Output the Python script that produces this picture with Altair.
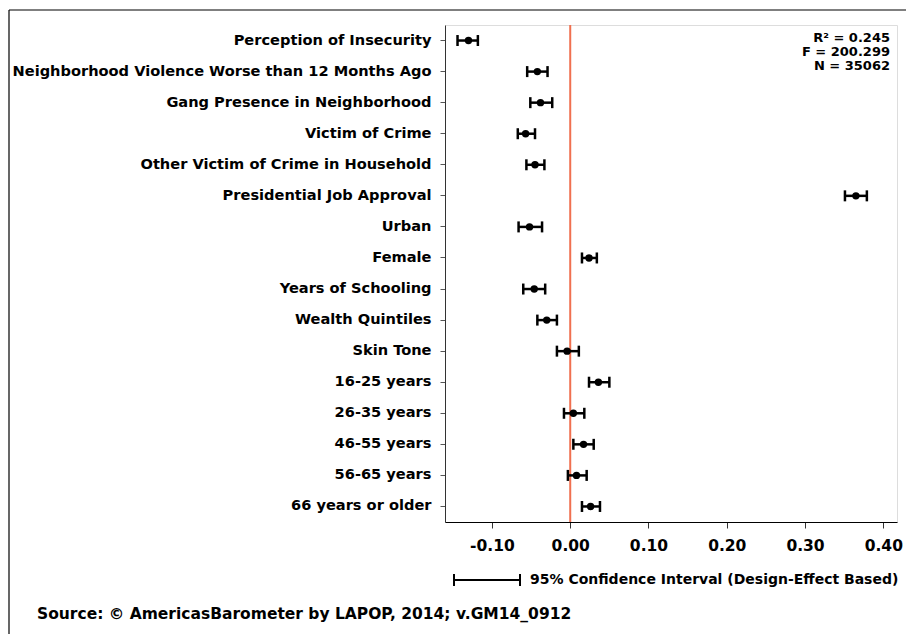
import altair as alt
import pandas as pd

labels = [
    "Perception of Insecurity",
    "Neighborhood Violence Worse than 12 Months Ago",
    "Gang Presence in Neighborhood",
    "Victim of Crime",
    "Other Victim of Crime in Household",
    "Presidential Job Approval",
    "Urban",
    "Female",
    "Years of Schooling",
    "Wealth Quintiles",
    "Skin Tone",
    "16-25 years",
    "26-35 years",
    "46-55 years",
    "56-65 years",
    "66 years or older",
]
coef = [-0.130, -0.042, -0.038, -0.057, -0.045, 0.365, -0.052, 0.024, -0.046,
        -0.030, -0.004, 0.036, 0.004, 0.017, 0.008, 0.026]
lo = [-0.144, -0.055, -0.051, -0.067, -0.056, 0.351, -0.066, 0.015, -0.060,
      -0.042, -0.017, 0.024, -0.008, 0.004, -0.003, 0.015]
hi = [-0.118, -0.029, -0.023, -0.045, -0.033, 0.379, -0.036, 0.034, -0.032,
      -0.017, 0.011, 0.050, 0.018, 0.030, 0.021, 0.038]
x_ticks = [-0.10, 0.00, 0.10, 0.20, 0.30, 0.40]
stats = ["R\u00b2 = 0.245", "F = 200.299", "N = 35062"]

df = pd.DataFrame({"label": labels, "coef": coef, "lo": lo, "hi": hi})
FONT = "DejaVu Sans"

W, H = 452, 497

y_enc = alt.Y("label:N", sort=labels,
              scale=alt.Scale(paddingInner=0, paddingOuter=0),
              axis=alt.Axis(title=None, labelFontSize=14.6, labelFontWeight="bold",
                            labelFont=FONT, labelColor="black", labelPadding=9,
                            tickSize=5, tickColor="#555", domainColor="#333",
                            labelLimit=0, grid=False))
x_scale = alt.Scale(domain=[-0.16, 0.4175], nice=False, zero=False)
x_enc = alt.X("coef:Q", scale=x_scale,
              axis=alt.Axis(title=None, values=x_ticks,
                            labelExpr="datum.value < 0 ? '-' + format(-datum.value, '.2f') : format(datum.value, '.2f')",
                            labelFontSize=15.5, labelFontWeight="bold", labelFont=FONT,
                            labelColor="black", tickSize=6, tickColor="#333",
                            domainColor="black", labelPadding=10, grid=False))

base = alt.Chart(df)

zero_rule = alt.Chart(pd.DataFrame({"z": [0.0]})).mark_rule(
    color="#F0704F", strokeWidth=2).encode(x=alt.X("z:Q", scale=x_scale))

ci = base.mark_rule(color="black", strokeWidth=2.5).encode(
    x=alt.X("lo:Q", scale=x_scale), x2="hi:Q", y=y_enc)
caps_lo = base.mark_tick(color="black", thickness=2.5, size=11, orient="vertical",
                         opacity=1).encode(x=alt.X("lo:Q", scale=x_scale), y=y_enc)
caps_hi = base.mark_tick(color="black", thickness=2.5, size=11, orient="vertical",
                         opacity=1).encode(x=alt.X("hi:Q", scale=x_scale), y=y_enc)
pts = base.mark_circle(color="black", size=55, opacity=1).encode(x=x_enc, y=y_enc)

stat_df = pd.DataFrame({"t": stats, "i": [0, 1, 2]})
stat_text = alt.Chart(stat_df).mark_text(
    align="right", baseline="middle", fontSize=13, fontWeight="bold", font=FONT,
    color="black").transform_calculate(
    yy="12.5 + datum.i * 14").encode(
    x=alt.value(445), y=alt.Y("yy:Q", scale=None), text="t:N")

# legend line with caps
one = pd.DataFrame({"a": [0]})
leg_line = alt.Chart(one).mark_rule(color="black", strokeWidth=2).encode(
    x=alt.value(9), x2=alt.value(75), y=alt.value(555))
leg_cap1 = alt.Chart(one).mark_rule(color="black", strokeWidth=2).encode(
    x=alt.value(9), y=alt.value(549), y2=alt.value(561))
leg_cap2 = alt.Chart(one).mark_rule(color="black", strokeWidth=2).encode(
    x=alt.value(75), y=alt.value(549), y2=alt.value(561))
leg_text = alt.Chart(pd.DataFrame({"t": ["95% Confidence Interval (Design-Effect Based)"]})).mark_text(
    align="left", baseline="middle", fontSize=14, fontWeight="bold", font=FONT,
    color="black").encode(x=alt.value(85), y=alt.value(555), text="t:N")
src_text = alt.Chart(pd.DataFrame({"t": ["Source: \u00a9 AmericasBarometer by LAPOP, 2014; v.GM14_0912"]})).mark_text(
    align="left", baseline="middle", fontSize=15.5, fontWeight="bold", font=FONT,
    color="black").encode(x=alt.value(-408), y=alt.value(589), text="t:N")

# outer frame (top and left edges)
frame_top = alt.Chart(one).mark_rule(color="black", strokeWidth=1.2).encode(
    x=alt.value(-436), x2=alt.value(480), y=alt.value(-15))
frame_left = alt.Chart(one).mark_rule(color="black", strokeWidth=1.2).encode(
    x=alt.value(-436), y=alt.value(-15), y2=alt.value(640))

chart = alt.layer(
    zero_rule, ci, caps_lo, caps_hi, pts, stat_text,
    leg_line, leg_cap1, leg_cap2, leg_text, src_text, frame_top, frame_left
).properties(
    width=W, height=H,
    autosize=alt.AutoSizeParams(type="none"),
    padding={"left": 437, "top": 17, "right": 9, "bottom": 112},
).configure_view(stroke=None).configure(background="white")

chart.save("out.html", embed_options={"renderer": "svg", "actions": False})
